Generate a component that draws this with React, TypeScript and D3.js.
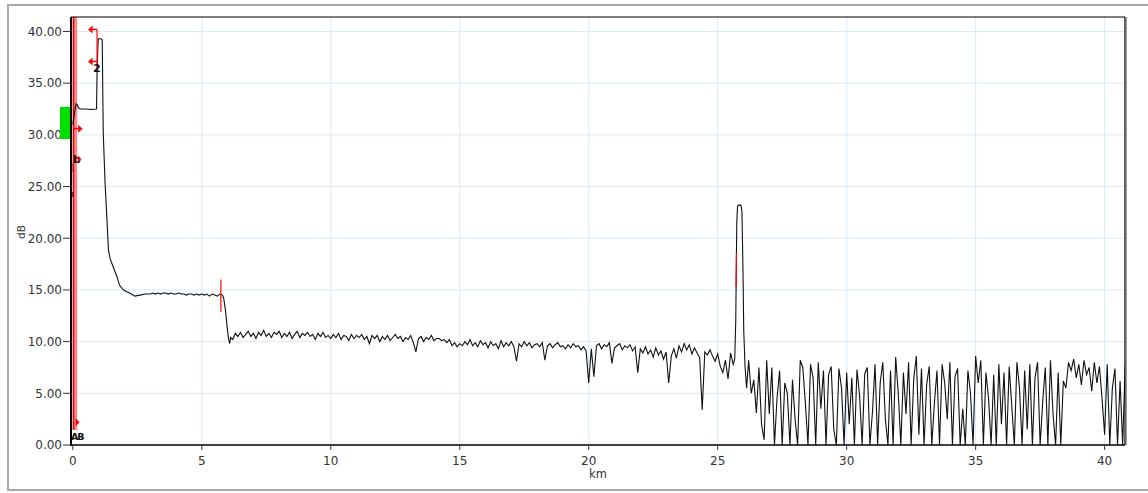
import React from 'react';
import * as d3 from 'd3';

const W = 1148;
const H = 493;
const frame = { left: 71, right: 1125, top: 17, bottom: 445 };

const kmTicks = [0, 5, 10, 15, 20, 25, 30, 35, 40];
const dbTicks = [0, 5, 10, 15, 20, 25, 30, 35, 40];
const kmDomain: [number, number] = [-0.07, 40.79];
const dbDomain: [number, number] = [0, 41.4];

// Launch reflection, connector and the first fall-off: [km, dB]
const launchTrace: [number, number][] = [
  [0.0, 31.0], [0.06, 32.0], [0.13, 33.0], [0.17, 32.9], [0.22, 32.6], [0.3, 32.5],
  [0.5, 32.5], [0.7, 32.45], [0.92, 32.5], [0.94, 36.0], [0.97, 38.5], [0.99, 39.3],
  [1.08, 39.3], [1.14, 39.2], [1.18, 30.2], [1.25, 25.4], [1.32, 22.0], [1.38, 18.9],
  [1.45, 18.0], [1.51, 17.6], [1.6, 17.0], [1.71, 16.3], [1.78, 15.7], [1.83, 15.4],
  [1.92, 15.1], [2.03, 14.9], [2.2, 14.7], [2.41, 14.4], [2.6, 14.5], [2.8, 14.6],
];

const sampleStepKm = 0.1;

// First fibre section, 2.9 km to 5.8 km
const plateauStartKm = 2.9;
const plateauDb = [
  14.6, 14.6, 14.7, 14.6, 14.7, 14.6, 14.7, 14.7, 14.6, 14.7,
  14.6, 14.6, 14.7, 14.6, 14.6, 14.5, 14.6, 14.6, 14.5, 14.6,
  14.5, 14.6, 14.5, 14.6, 14.4, 14.6, 14.5, 14.4, 14.6, 14.5,
];

// Loss step near 6 km: [km, dB]
const stepDownTrace: [number, number][] = [
  [5.85, 14.2], [5.92, 13.0], [5.98, 11.5], [6.03, 10.4], [6.08, 9.8], [6.12, 10.4],
];

// Second fibre section, 6.2 km to 25.6 km
const fiberStartKm = 6.2;
const fiberDb = [
  10.2, 10.8, 10.5, 10.9, 10.4, 10.7, 11.0, 10.5, 10.8, 10.3,
  10.9, 10.6, 11.1, 10.5, 10.8, 10.4, 10.9, 10.7, 11.0, 10.4,
  10.8, 10.5, 10.9, 10.3, 10.7, 11.0, 10.4, 10.8, 10.6, 10.9,
  10.5, 10.7, 10.2, 10.8, 10.5, 10.9, 10.4, 10.6, 10.3, 10.7,
  10.4, 10.8, 10.2, 10.6, 10.5, 10.1, 10.7, 10.3, 10.6, 10.4,
  10.7, 10.2, 10.5, 9.8, 10.6, 10.3, 10.6, 10.0, 10.5, 10.2,
  10.6, 10.1, 10.4, 10.7, 10.3, 10.5, 10.0, 10.4, 10.2, 10.6,
  9.9, 9.0, 10.3, 10.5, 10.0, 10.4, 10.2, 10.6, 10.1, 10.3,
  10.3, 10.1, 10.2, 9.9, 10.2, 9.6, 9.9, 9.5, 9.8, 9.6,
  10.0, 9.7, 10.2, 9.6, 9.9, 9.5, 10.1, 9.7, 9.9, 9.4,
  10.0, 9.6, 9.8, 9.3, 10.1, 9.5, 9.9, 9.6, 10.0, 9.5,
  8.1, 9.8, 9.5, 10.0, 9.6, 9.9, 9.4, 9.7, 9.8, 9.5,
  9.9, 8.2, 9.6, 9.8, 9.4, 9.7, 9.9, 9.5, 9.6, 9.3,
  9.7, 9.4, 9.8, 9.5, 9.6, 9.2, 9.5, 9.1, 6.0, 9.3,
  6.6, 9.6, 9.8, 9.3, 9.7, 9.5, 9.9, 7.9, 9.4, 9.6,
  9.8, 9.2, 9.6, 9.4, 9.7, 9.1, 9.5, 7.0, 9.3, 8.9,
  9.5, 8.8, 9.2, 8.5, 9.4, 8.7, 9.1, 8.3, 9.0, 6.0,
  8.6, 9.3, 8.4, 9.6, 9.0, 9.8, 9.2, 9.7, 8.8, 9.4,
  8.9, 8.5, 3.4, 9.0, 8.7, 9.2, 8.6, 8.1, 8.8, 7.6,
  7.0, 8.2, 6.4, 8.9, 7.8,
];

// Far-end reflection: [km, dB]
const reflectionTrace: [number, number][] = [
  [25.66, 8.3], [25.7, 12.0], [25.74, 21.5], [25.77, 23.1], [25.8, 23.2], [25.9, 23.2],
  [25.94, 22.6], [25.98, 17.0], [26.01, 11.1], [26.06, 7.6], [26.12, 5.5],
];

// Noise floor after the fibre end, 26.2 km to 40.8 km
const tailStartKm = 26.2;
const tailDb = [
  8.2, 5.0, 6.3, 3.1, 7.5, 2.0, 0.5, 8.2, 3.0, 7.5,
  0.0, 4.5, 7.2, 0.0, 6.0, 5.0, 0.0, 6.3, 2.5, 0.0,
  8.2, 7.5, 4.0, 0.0, 7.8, 6.5, 0.0, 8.0, 3.5, 7.2,
  0.0, 6.8, 7.6, 1.5, 0.0, 7.4, 5.5, 0.0, 7.0, 2.0,
  6.5, 0.0, 7.3, 4.8, 0.0, 6.9, 7.5, 0.0, 3.2, 7.8,
  0.0, 6.0, 8.0, 2.5, 0.0, 7.2, 0.0, 8.5, 5.0, 0.0,
  7.0, 3.0, 8.0, 0.0, 6.4, 8.6, 1.0, 7.4, 0.0, 5.8,
  7.6, 0.0, 4.0, 7.2, 0.0, 7.8, 6.0, 2.5, 8.0, 0.0,
  6.6, 7.4, 0.0, 3.5, 0.0, 7.2, 5.0, 0.0, 8.6, 6.0,
  8.2, 0.0, 7.0, 4.5, 0.0, 6.8, 0.0, 7.8, 2.0, 7.0,
  0.0, 7.6, 3.8, 0.0, 8.0, 5.5, 0.0, 7.2, 1.5, 7.8,
  0.0, 6.5, 8.0, 0.0, 4.2, 7.5, 0.0, 8.2, 3.0, 0.0,
  7.0, 0.0, 6.2, 5.5, 8.0, 7.2, 8.3, 6.5, 7.8, 5.8,
  8.2, 6.8, 7.5, 5.2, 8.0, 6.0, 7.6, 4.5, 1.0, 7.8,
  0.0, 5.5, 7.4, 0.0, 6.2, 0.0, 8.0,
];

// Cursor and event markers
const cursorAKm = 0.07;
const cursor2Km = 0.94;
const cursor2Db = [40.2, 37.1];
const eventMarkKm = 5.74;
const eventMarkDb = [16.0, 12.9];
const reflectionMark: [number, number][] = [[25.714, 15.3], [25.728, 18.6]];
const acqBandDb = [32.7, 29.6];

const sampled = (startKm: number, values: number[]): [number, number][] =>
  values.map((v, i) => [startKm + i * sampleStepKm, v]);

export default function App() {
  const x = d3.scaleLinear().domain(kmDomain).range([frame.left, frame.right]);
  const y = d3.scaleLinear().domain(dbDomain).range([frame.bottom, frame.top]);

  const trace: [number, number][] = [
    ...launchTrace,
    ...sampled(plateauStartKm, plateauDb),
    ...stepDownTrace,
    ...sampled(fiberStartKm, fiberDb),
    ...reflectionTrace,
    ...sampled(tailStartKm, tailDb),
  ];

  const line = d3
    .line<[number, number]>()
    .x((d) => x(d[0]))
    .y((d) => y(Math.max(0, d[1])));

  const font = "'DejaVu Sans', Verdana, sans-serif";
  const red = '#ff0000';
  const xA = x(cursorAKm);
  const x2 = x(cursor2Km);

  return (
    <svg
      width={W}
      height={H}
      style={{ position: 'absolute', left: 0, top: 0, background: '#fff' }}
      fontFamily={font}
    >
      <defs>
        <clipPath id="plotClip">
          <rect x={frame.left} y={frame.top} width={frame.right - frame.left} height={frame.bottom - frame.top} />
        </clipPath>
      </defs>

      {/* outer panel */}
      <rect x={8} y={5} width={W + 10} height={485} fill="#fff" stroke="#a8a8a8" strokeWidth={2} />

      {/* grid */}
      {kmTicks.filter((t) => t > 0).map((t) => (
        <line key={'gx' + t} x1={x(t)} x2={x(t)} y1={frame.top} y2={frame.bottom} stroke="#d9e9f8" strokeWidth={1} />
      ))}
      {dbTicks.filter((t) => t > 0).map((t) => (
        <line key={'gy' + t} x1={frame.left} x2={frame.right} y1={y(t)} y2={y(t)} stroke="#d9e9f8" strokeWidth={1} />
      ))}

      {/* cursor A band */}
      <rect x={xA - 2.2} y={frame.top} width={4.8} height={430 - frame.top} fill="#ff6b6b" opacity={0.8} />
      <line x1={xA - 1} x2={xA - 1} y1={frame.top} y2={430} stroke="#e80000" strokeWidth={1.3} />

      {/* trace */}
      <path d={line(trace) || ''} fill="none" stroke="#111" strokeWidth={1.1} clipPath="url(#plotClip)" />
      <line
        x1={x(reflectionMark[0][0])}
        y1={y(reflectionMark[0][1])}
        x2={x(reflectionMark[1][0])}
        y2={y(reflectionMark[1][1])}
        stroke={red}
        strokeWidth={1.2}
      />

      {/* event marker */}
      <line x1={x(eventMarkKm)} x2={x(eventMarkKm)} y1={y(eventMarkDb[0])} y2={y(eventMarkDb[1])} stroke={red} strokeWidth={1.2} />

      {/* cursor 2 */}
      <line x1={x2} x2={x2} y1={y(cursor2Db[0])} y2={y(cursor2Db[1]) + 8} stroke={red} strokeWidth={1.2} />
      {cursor2Db.map((v) => (
        <g key={'c2' + v}>
          <line x1={x2 - 5} x2={x2} y1={y(v)} y2={y(v)} stroke={red} strokeWidth={1.5} />
          <path d={`M${x2 - 9},${y(v)} L${x2 - 4.5},${y(v) - 4} L${x2 - 4.5},${y(v) + 4} Z`} fill={red} />
        </g>
      ))}
      <text x={x2 - 4} y={y(cursor2Db[1]) + 11} fontSize={11} fontWeight="bold" fill="#111">2</text>

      {/* cursor A arrows and labels */}
      <line x1={xA - 1} x2={xA + 4} y1={y(30.6)} y2={y(30.6)} stroke={red} strokeWidth={1.5} />
      <path d={`M${xA + 8},${y(30.6)} L${xA + 3.5},${y(30.6) - 4} L${xA + 3.5},${y(30.6) + 4} Z`} fill={red} />
      <text x={xA - 1.5} y={163} fontSize={11} fontWeight="bold" fill="#111">b</text>
      <path d={`M${xA + 7},${159} L${xA + 3},${155.5} L${xA + 3},${162.5} Z`} fill={red} opacity={0.85} />
      <line x1={71.8} x2={71.8} y1={163} y2={172} stroke="#111" strokeWidth={1.2} />
      <rect x={72.2} y={192} width={1.8} height={5} fill="#8a0000" />
      <path d={`M${xA + 5},${y(2.2)} L${xA + 1},${y(2.2) - 4} L${xA + 1},${y(2.2) + 4} Z`} fill={red} />
      <text x={71} y={440} fontSize={9.5} fontWeight="bold" fill="#111" letterSpacing={-1}>AB</text>

      {/* plot frame */}
      <line x1={frame.left} x2={frame.right} y1={frame.top} y2={frame.top} stroke="#000" strokeWidth={1.2} />
      <line x1={frame.right} x2={frame.right} y1={frame.top} y2={frame.bottom} stroke="#000" strokeWidth={1.2} />
      <line x1={frame.right + 1.5} x2={frame.right + 1.5} y1={frame.top} y2={frame.bottom} stroke="#999" strokeWidth={1} />
      <line x1={frame.left} x2={frame.left} y1={frame.top} y2={frame.bottom + 1} stroke="#000" strokeWidth={2} />
      <line x1={frame.left} x2={frame.right} y1={frame.bottom} y2={frame.bottom} stroke="#000" strokeWidth={1.5} />

      {/* y axis */}
      {dbTicks.map((t) => (
        <g key={'ty' + t}>
          <line x1={frame.left - 8} x2={frame.left} y1={y(t)} y2={y(t)} stroke="#333" strokeWidth={1} />
          <text x={frame.left - 9} y={y(t)} dy="0.36em" textAnchor="end" fontSize={12} fill="#333">
            {t.toFixed(2)}
          </text>
        </g>
      ))}
      <text transform={`translate(25,232) rotate(-90)`} textAnchor="middle" fontSize={10.5} fill="#333">dB</text>

      {/* x axis */}
      {kmTicks.map((t) => (
        <g key={'tx' + t}>
          <line x1={x(t)} x2={x(t)} y1={frame.bottom} y2={frame.bottom + 5} stroke="#333" strokeWidth={1} />
          <text x={x(t)} y={465} textAnchor="middle" fontSize={12} fill="#333">{t}</text>
        </g>
      ))}
      <text x={598} y={478} textAnchor="middle" fontSize={11.5} fill="#333">km</text>

      {/* acquisition level band */}
      <rect x={60} y={y(acqBandDb[0])} width={10} height={y(acqBandDb[1]) - y(acqBandDb[0])} fill="#00e000" />
    </svg>
  );
}
